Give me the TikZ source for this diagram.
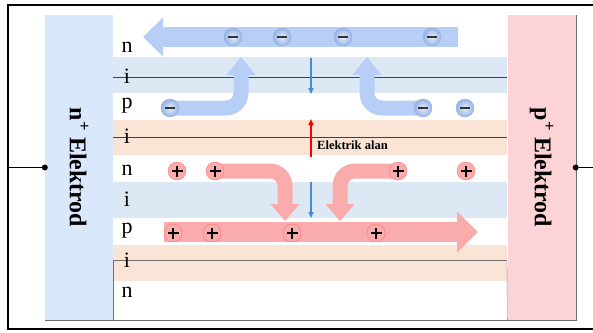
\documentclass[tikz,border=0pt]{standalone}
\usepackage{fontspec}
\setmainfont{Liberation Serif}
\usetikzlibrary{positioning, arrows.meta, shapes}

\definecolor{elecblue}{RGB}{218,232,252}
\definecolor{elecpink}{RGB}{252,212,216}
\definecolor{bandblue}{RGB}{221,232,245}
\definecolor{bandorange}{RGB}{250,228,214}
\definecolor{flowblue}{RGB}{183,207,246}
\definecolor{flowred}{RGB}{250,172,172}
\definecolor{fieldblue}{RGB}{70,140,210}
\definecolor{edgegray}{RGB}{110,110,110}
\definecolor{rimblue}{RGB}{150,178,228}

\pgfdeclarelayer{bands}
\pgfdeclarelayer{flow}
\pgfsetlayers{bands,flow,main}

\tikzset{
  layer/.style={font=\fontsize{22}{22}\selectfont, inner sep=0pt},
  electrode/.style={minimum width=68pt, minimum height=305pt, inner sep=0pt},
  elabel/.style={rotate=-90, font=\fontsize{24}{24}\selectfont\bfseries, inner sep=0pt},
  electron/.style={circle, minimum size=18pt, inner sep=0pt, draw=rimblue,
    shade, inner color=flowblue!35, outer color=rimblue,
    path picture={\draw[line width=1.7pt, black!80]
      ([xshift=-5pt]path picture bounding box.center) -- ([xshift=5pt]path picture bounding box.center);}},
  hole/.style={circle, minimum size=18pt, inner sep=0pt, draw=red!55, fill=flowred,
    path picture={\draw[line width=1.3pt, black]
      ([xshift=-5.5pt]path picture bounding box.center) -- ([xshift=5.5pt]path picture bounding box.center)
      ([yshift=-5.5pt]path picture bounding box.center) -- ([yshift=5.5pt]path picture bounding box.center);}},
  wiredot/.style={circle, fill=black, minimum size=6pt, inner sep=0pt},
  blueflow/.style={draw=flowblue, line width=20pt, -{Triangle[width=38pt,length=20pt]}},
  redflow/.style={draw=flowred, line width=20pt, -{Triangle[width=40pt,length=21pt]}},
  bluebend/.style={draw=flowblue, line width=15pt, rounded corners=15pt, -{Triangle[width=28pt,length=18pt]}},
  redbend/.style={draw=flowred, line width=15pt, rounded corners=15pt, -{Triangle[width=28pt,length=17pt]}},
  fieldarrow/.style={line width=1.3pt, -{Triangle[width=5pt,length=6pt]}}
}

\begin{document}
\begin{tikzpicture}[x=1pt, y=-1pt]
  \useasboundingbox (0,0) rectangle (593,332);

  % bands between the electrodes
  \begin{pgfonlayer}{bands}
    \fill[bandblue] (113,57) rectangle (507,93);
    \fill[bandorange] (113,120) rectangle (507,155);
    \fill[bandblue] (113,182) rectangle (507,218);
    \fill[bandorange] (113,245) rectangle (507,281);
    \draw[black!75] (113,77) -- (507,77);
    \draw[black!75] (113,137) -- (507,137);
    \draw[edgegray] (113,320) -- (113,260) -- (507,260);
  \end{pgfonlayer}

  % electrodes
  \node[electrode, fill=elecblue] (nelec) at (79,167.5) {};
  \node[electrode, fill=elecpink] (pelec) at (541.5,167.5) {};
  \draw[edgegray] (nelec.south west) -- (pelec.south east) -- (pelec.north east);
  \draw[edgegray] (pelec.south west) -- (507,260);
  \node[elabel] (nlabel) at (nelec.center) {n\textsuperscript{+} Elektrod};
  \node[elabel] (plabel) at (pelec.center) {p\textsuperscript{+} Elektrod};

  % layer names
  \node[layer] (l1) at (127,47) {n};
  \node[layer] (l2) at (127,76) {i};
  \node[layer] (l3) at (127,106) {p};
  \node[layer] (l4) at (127,136) {i};
  \node[layer] (l5) at (127,170) {n};
  \node[layer] (l6) at (127,199) {i};
  \node[layer] (l7) at (127,231) {p};
  \node[layer] (l8) at (127,260) {i};
  \node[layer] (l9) at (127,292) {n};

  % electrons
  \node[electron] (m1) at (233,37) {};
  \node[electron] (m2) at (282,37) {};
  \node[electron] (m3) at (343,37) {};
  \node[electron] (m4) at (432,37) {};
  \node[electron] (m5) at (170,108) {};
  \node[electron] (m6) at (423,108) {};
  \node[electron] (m7) at (465,108) {};

  % holes
  \node[hole] (h1) at (177,171) {};
  \node[hole] (h2) at (215,171) {};
  \node[hole] (h3) at (398,171) {};
  \node[hole] (h4) at (466,171) {};
  \node[hole] (h5) at (173,233) {};
  \node[hole] (h6) at (212,233) {};
  \node[hole] (h7) at (292,233) {};
  \node[hole] (h8) at (376,233) {};

  % arrow ends
  \coordinate (topstart) at (458,37);
  \coordinate (toptip) at (143,37);
  \coordinate (botstart) at (164,232);
  \coordinate (bottip) at (478,232);
  \coordinate (bluetipL) at (241,57);
  \coordinate (bluetipR) at (367,57);
  \coordinate (redtipL) at (285,221);
  \coordinate (redtipR) at (340,221);

  \begin{pgfonlayer}{flow}
    \draw[blueflow] (topstart) -- (toptip);
    \draw[redflow] (botstart) -- (bottip);
    \draw[bluebend] (m5.center) -| (bluetipL);
    \draw[bluebend] (m6.center) -| (bluetipR);
    \draw[redbend] (h2.center) -| (redtipL);
    \draw[redbend] (h3.center) -| (redtipR);
  \end{pgfonlayer}

  % field
  \coordinate (fa1) at (311,58);
  \coordinate (fa2) at (311,94);
  \coordinate (fb1) at (311,182);
  \coordinate (fb2) at (311,218);
  \coordinate (fr1) at (311,157);
  \coordinate (fr2) at (311,119);
  \draw[fieldarrow, fieldblue] (fa1) -- (fa2);
  \draw[fieldarrow, fieldblue] (fb1) -- (fb2);
  \draw[fieldarrow, red, line width=1.6pt] (fr1) -- (fr2);
  \node[font=\fontsize{12.5}{12.5}\selectfont\bfseries, anchor=west, inner sep=0pt] (field) at (317,145) {Elektrik alan};

  % wires and frame
  \node[wiredot] (ldot) at (nelec.west) {};
  \node[wiredot] (rdot) at (pelec.east) {};
  \coordinate (lframe) at (8,167.5);
  \coordinate (rframe) at (596,167.5);
  \draw[line width=1.5pt] (lframe) -- (ldot);
  \draw[line width=1.5pt] (rdot) -- (rframe);
  \draw[line width=2pt] (598,5) -- (8,5) -- (8,329) -- (598,329);
\end{tikzpicture}
\end{document}
